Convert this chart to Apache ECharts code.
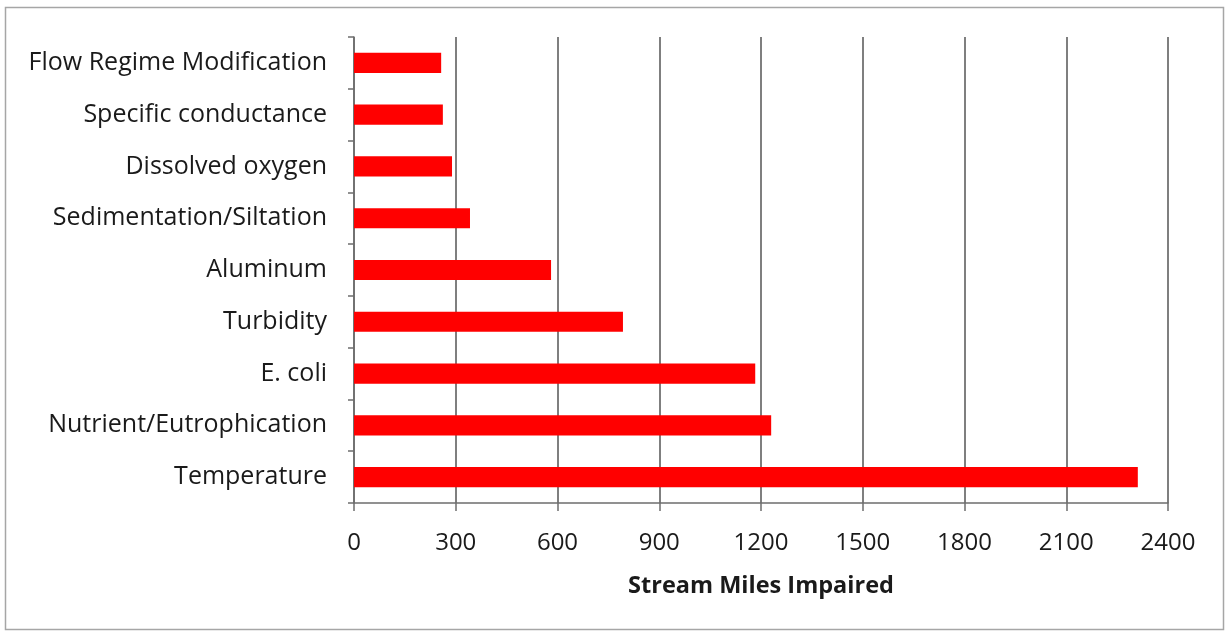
<!DOCTYPE html>
<html>
<head>
<meta charset="utf-8">
<script src="https://cdn.jsdelivr.net/npm/echarts@6/dist/echarts.min.js"></script>
<style>
  html, body { margin: 0; padding: 0; background: #ffffff; }
  #chart { width: 1228px; height: 635px; }
</style>
</head>
<body>
<div id="chart"></div>
<script>
// Impairment causes, listed bottom to top as drawn on the category axis
const categories = [
  'Temperature',
  'Nutrient/Eutrophication',
  'E. coli',
  'Turbidity',
  'Aluminum',
  'Sedimentation/Siltation',
  'Dissolved oxygen',
  'Specific conductance',
  'Flow Regime Modification'
];
// Stream miles impaired for each cause
const milesImpaired = [2311, 1230, 1183, 793, 581, 342, 289, 262, 257];
const axisTitle = 'Stream Miles Impaired';

const font = '"Open Sans", sans-serif';
const chart = echarts.init(document.getElementById('chart'));

chart.setOption({
  animation: false,
  backgroundColor: '#ffffff',
  graphic: [{
    type: 'rect',
    shape: { x: 5.5, y: 7.5, width: 1218, height: 622 },
    style: { fill: 'none', stroke: '#a6a6a6', lineWidth: 1.5 },
    silent: true
  }],
  grid: { left: 354, right: 60, top: 37, bottom: 132, containLabel: false },
  xAxis: {
    type: 'value',
    min: 0,
    max: 2400,
    interval: 300,
    name: axisTitle,
    nameLocation: 'middle',
    nameGap: 71,
    nameTextStyle: { fontFamily: font, fontSize: 23.5, fontWeight: 'bold', color: '#1a1a1a' },
    axisLine: { show: true, lineStyle: { color: '#6e6e6e', width: 1.5 } },
    axisTick: { show: true, length: 8, lineStyle: { color: '#6e6e6e', width: 1.5 } },
    axisLabel: {
      fontFamily: font, fontSize: 24, color: '#1a1a1a', margin: 28,
      formatter: (v) => String(v)
    },
    splitLine: { show: true, lineStyle: { color: '#555555', width: 1.5 } }
  },
  yAxis: {
    type: 'category',
    data: categories,
    axisLine: { show: true, lineStyle: { color: '#6e6e6e', width: 1.5 } },
    axisTick: { show: true, length: 6, lineStyle: { color: '#6e6e6e', width: 1.5 } },
    axisLabel: { fontFamily: font, fontSize: 25, color: '#1a1a1a', margin: 27, padding: [4, 0, 0, 0] },
    splitLine: { show: false }
  },
  series: [{
    type: 'bar',
    data: milesImpaired,
    barWidth: '39%',
    itemStyle: { color: '#ff0000' }
  }]
});
</script>
</body>
</html>
